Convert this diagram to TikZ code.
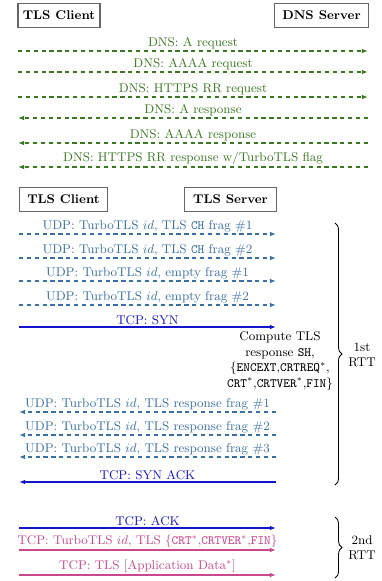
\documentclass[tikz,border=0pt]{standalone}
\usepackage{amsmath,amssymb}
\usepackage{tikz}
\usetikzlibrary{arrows.meta,positioning,calc,decorations.pathreplacing}
\usepackage{xcolor}
\definecolor{dnsgreen}{RGB}{58,120,34}
\definecolor{udpblue}{RGB}{58,112,164}
\definecolor{tcpblue}{RGB}{20,20,205}
\definecolor{tlspink}{RGB}{202,72,142}

\begin{document}
\begin{tikzpicture}[x=0.025cm, y=-0.025cm,
    party/.style={rectangle, draw=black!60, thick, font=\bfseries\small, minimum height=0.6cm, inner sep=2pt},
    msg/.style={-{Latex[length=1.5mm, width=1.1mm]}, line width=0.75pt},
    dashmsg/.style={msg, dash pattern=on 3pt off 2.6pt},
    lbl/.style={above, inner sep=1.2pt, font=\small},
    rbrace/.style={decorate, decoration={brace, amplitude=5pt}, semithick}]

    \useasboundingbox (0,0) rectangle (382,581);

    % DNS lookup
    \node[party, minimum width=2.05cm] (dcli) at (59,15.5) {TLS Client};
    \node[party, minimum width=2.33cm] (dsrv) at (321.5,15.5) {DNS Server};

    \coordinate (dl1) at (18,51);    \coordinate (dr1) at (368,51);
    \coordinate (dl2) at (18,72);    \coordinate (dr2) at (368,72);
    \coordinate (dl3) at (18,97);    \coordinate (dr3) at (368,97);
    \coordinate (dl4) at (18,118);   \coordinate (dr4) at (368,118);
    \coordinate (dl5) at (18,143);   \coordinate (dr5) at (368,143);
    \coordinate (dl6) at (18,167);   \coordinate (dr6) at (368,167);

    \draw[dashmsg, dnsgreen] (dl1) -- node[lbl]{DNS: A request} (dr1);
    \draw[dashmsg, dnsgreen] (dl2) -- node[lbl]{DNS: AAAA request} (dr2);
    \draw[dashmsg, dnsgreen] (dl3) -- node[lbl]{DNS: HTTPS RR request} (dr3);
    \draw[dashmsg, dnsgreen] (dr4) -- node[lbl]{DNS: A response} (dl4);
    \draw[dashmsg, dnsgreen] (dr5) -- node[lbl]{DNS: AAAA response} (dl5);
    \draw[dashmsg, dnsgreen] (dr6) -- node[lbl]{DNS: HTTPS RR response w/TurboTLS flag} (dl6);

    % TurboTLS handshake
    \node[party, minimum width=2.22cm] (tcli) at (63.5,199.5) {TLS Client};
    \node[party, minimum width=2.28cm] (tsrv) at (230.5,199.5) {TLS Server};

    \coordinate (tl1) at (19,234);   \coordinate (tr1) at (276,234);
    \coordinate (tl2) at (19,258);   \coordinate (tr2) at (276,258);
    \coordinate (tl3) at (19,281);   \coordinate (tr3) at (276,281);
    \coordinate (tl4) at (19,305);   \coordinate (tr4) at (276,305);
    \coordinate (tl5) at (19,327);   \coordinate (tr5) at (276,327);
    \coordinate (tl6) at (19,412);   \coordinate (tr6) at (276,412);
    \coordinate (tl7) at (19,435);   \coordinate (tr7) at (276,435);
    \coordinate (tl8) at (19,457);   \coordinate (tr8) at (276,457);
    \coordinate (tl9) at (19,482);   \coordinate (tr9) at (276,482);

    \draw[dashmsg, udpblue] (tl1) -- node[lbl]{UDP: TurboTLS $id$, TLS \texttt{CH} frag \#1} (tr1);
    \draw[dashmsg, udpblue] (tl2) -- node[lbl]{UDP: TurboTLS $id$, TLS \texttt{CH} frag \#2} (tr2);
    \draw[dashmsg, udpblue] (tl3) -- node[lbl]{UDP: TurboTLS $id$, empty frag \#1} (tr3);
    \draw[dashmsg, udpblue] (tl4) -- node[lbl]{UDP: TurboTLS $id$, empty frag \#2} (tr4);
    \draw[msg, tcpblue] (tl5) -- node[lbl]{TCP: SYN} (tr5);

    \node[font=\small, align=center, inner sep=0pt] (compute) at (280,361)
        {Compute TLS\\response \texttt{SH},\\\{\texttt{ENCEXT},\texttt{CRTREQ}$^*$,\\\texttt{CRT}$^*$,\texttt{CRTVER}$^*$,\texttt{FIN}\}};

    \draw[dashmsg, udpblue] (tr6) -- node[lbl]{UDP: TurboTLS $id$, TLS response frag \#1} (tl6);
    \draw[dashmsg, udpblue] (tr7) -- node[lbl]{UDP: TurboTLS $id$, TLS response frag \#2} (tl7);
    \draw[dashmsg, udpblue] (tr8) -- node[lbl]{UDP: TurboTLS $id$, TLS response frag \#3} (tl8);
    \draw[msg, tcpblue] (tr9) -- node[lbl]{TCP: SYN ACK} (tl9);

    \coordinate (tl10) at (19,528);  \coordinate (tr10) at (276,528);
    \coordinate (tl11) at (19,550);  \coordinate (tr11) at (276,550);
    \coordinate (tl12) at (19,575);  \coordinate (tr12) at (276,575);

    \draw[msg, tcpblue] (tl10) -- node[lbl]{TCP: ACK} (tr10);
    \draw[msg, tlspink] (tl11) -- node[lbl]{TCP: TurboTLS $id$, TLS \{\texttt{CRT}$^*$,\texttt{CRTVER}$^*$,\texttt{FIN}\}} (tr11);
    \draw[msg, tlspink] (tl12) -- node[lbl]{TCP: TLS [Application Data$^*$]} (tr12);

    % Round trips
    \coordinate (b1top) at (335,223);  \coordinate (b1bot) at (335,485);
    \coordinate (b2top) at (335,517);  \coordinate (b2bot) at (335,578);
    \draw[rbrace] (b1top) -- (b1bot);
    \draw[rbrace] (b2top) -- (b2bot);
    \node[font=\small, align=center] (rtt1) at (362,355) {1st\\RTT};
    \node[font=\small, align=center] (rtt2) at (362,548) {2nd\\RTT};
\end{tikzpicture}
\end{document}
